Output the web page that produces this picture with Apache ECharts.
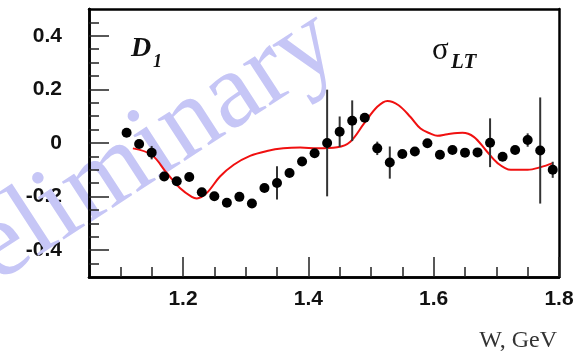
<!DOCTYPE html>
<html>
<head>
<meta charset="utf-8">
<script src="https://cdn.jsdelivr.net/npm/echarts@6/dist/echarts.min.js"></script>
<style>html,body{margin:0;padding:0;background:#fff;}#c{width:583px;height:354px;}</style>
</head>
<body>
<div id="c"></div>
<script>
// Data points (W in GeV, value) and their errors
const pointW = [1.11,1.13,1.15,1.17,1.19,1.21,1.23,1.25,1.27,1.29,1.31,1.33,1.35,1.37,1.39,1.41,1.43,1.45,1.47,1.49,1.51,1.53,1.55,1.57,1.59,1.61,1.63,1.65,1.67,1.69,1.71,1.73,1.75,1.77,1.79];
const pointV = [0.038,-0.004,-0.036,-0.125,-0.143,-0.127,-0.184,-0.199,-0.223,-0.201,-0.226,-0.168,-0.149,-0.112,-0.069,-0.038,0.000,0.042,0.083,0.094,-0.020,-0.073,-0.041,-0.032,-0.001,-0.044,-0.026,-0.036,-0.035,0.001,-0.051,-0.026,0.011,-0.028,-0.100];
const pointErr = [0,0,0.025,0,0,0,0,0,0,0,0,0,0.062,0,0,0,0.199,0.057,0.076,0,0.025,0.06,0,0,0,0,0,0,0,0.091,0,0,0.025,0.198,0.03];
// Model curve
const curveW = [1.12,1.15,1.174,1.195,1.214,1.222,1.238,1.259,1.281,1.307,1.334,1.36,1.387,1.414,1.446,1.467,1.489,1.51,1.526,1.544,1.563,1.579,1.595,1.606,1.622,1.646,1.664,1.683,1.702,1.723,1.75,1.771,1.79];
const curveV = [-0.02,-0.044,-0.112,-0.168,-0.201,-0.207,-0.186,-0.125,-0.081,-0.048,-0.03,-0.02,-0.017,-0.02,-0.016,0.005,0.073,0.135,0.157,0.141,0.097,0.054,0.035,0.027,0.033,0.038,0.023,-0.026,-0.075,-0.1,-0.1,-0.09,-0.075];
// Axis ticks and labels
const xLabels = [1.2,1.4,1.6,1.8];
const xMinor = [1.1,1.15,1.25,1.3,1.35,1.45,1.5,1.55,1.65,1.7,1.75];
const yLabels = [-0.4,-0.2,0,0.2,0.4];
const yMinor = [-0.45,-0.35,-0.3,-0.25,-0.15,-0.1,-0.05,0.05,0.1,0.15,0.25,0.3,0.35,0.45];
const xMin = 1.05, xMax = 1.8, yMin = -0.5, yMax = 0.5;

const chart = echarts.init(document.getElementById('c'), null, {renderer:'canvas'});
const labFont = {fontSize:21, fontWeight:'bold', color:'#111', fontFamily:'Liberation Sans, Arial, sans-serif'};
function baseAxis(extra){
  return Object.assign({type:'value', splitLine:{show:false}, axisLine:{show:false,onZero:false}, axisTick:{show:false}, axisLabel:{show:false}}, extra);
}
const tickStyle = {color:'#222', width:1.5};
const frameLine = {show:true,onZero:false,lineStyle:{color:'#000',width:2.5}};
const option = {
  animation:false,
  backgroundColor:'#fff',
  grid:{left:89, top:9, right:24, bottom:77, containLabel:false},
  xAxis:[
    baseAxis({min:xMin,max:xMax,position:'bottom',z:0,
      axisLabel:Object.assign({show:true, customValues:xLabels, margin:12, formatter:v=>v.toFixed(1)}, labFont)}),
    baseAxis({min:xMin,max:xMax,position:'bottom',z:10, axisLine:frameLine,
      axisTick:{show:true,inside:true,length:20,customValues:xLabels,lineStyle:tickStyle}}),
    baseAxis({min:xMin,max:xMax,position:'bottom',z:10, axisLine:frameLine,
      axisTick:{show:true,inside:true,length:10,customValues:xMinor,lineStyle:tickStyle}}),
    baseAxis({min:xMin,max:xMax,position:'top',z:10, axisLine:frameLine})
  ],
  yAxis:[
    baseAxis({min:yMin,max:yMax,position:'left',z:0,
      axisLabel:Object.assign({show:true, customValues:yLabels, margin:27, formatter:v=>v===0?'0':v.toFixed(1)}, labFont)}),
    baseAxis({min:yMin,max:yMax,position:'left',z:10, axisLine:frameLine,
      axisTick:{show:true,inside:true,length:20,customValues:yLabels,lineStyle:tickStyle}}),
    baseAxis({min:yMin,max:yMax,position:'left',z:10, axisLine:frameLine,
      axisTick:{show:true,inside:true,length:10,customValues:yMinor,lineStyle:tickStyle}}),
    baseAxis({min:yMin,max:yMax,position:'right',z:10, axisLine:frameLine})
  ],
  graphic:[
    {type:'text', x:328, y:34, rotation:33*Math.PI/180, z:3,
      style:{text:'Preliminary', font:'108px "Liberation Serif", serif', fill:'#c6c6f6', textAlign:'right', textVerticalAlign:'middle'}},
    {type:'text', x:131, y:49, z:20,
      style:{text:'D', font:'italic bold 28px "Liberation Serif", serif', fill:'#111', textAlign:'left', textVerticalAlign:'middle'}},
    {type:'text', x:153, y:62, z:20,
      style:{text:'1', font:'italic bold 18px "Liberation Serif", serif', fill:'#111', textAlign:'left', textVerticalAlign:'middle'}},
    {type:'text', x:432, y:51, z:20,
      style:{text:'σ', font:'31px "Liberation Serif", serif', fill:'#111', textAlign:'left', textVerticalAlign:'middle'}},
    {type:'text', x:451, y:63, z:20,
      style:{text:'LT', font:'italic bold 21px "Liberation Serif", serif', fill:'#111', textAlign:'left', textVerticalAlign:'middle'}},
    {type:'text', x:557, y:341, z:20,
      style:{text:'W, GeV', font:'24px "Liberation Serif", serif', fill:'#333', textAlign:'right', textVerticalAlign:'middle'}}
  ],
  series:[
    {type:'line', xAxisIndex:0, yAxisIndex:0, z:5, smooth:0.35, symbol:'none',
      lineStyle:{color:'#f01010', width:2},
      data:curveW.map((w,i)=>[w,curveV[i]])},
    {type:'custom', xAxisIndex:0, yAxisIndex:0, z:6,
      renderItem:function(params, api){
        const x=api.value(0), y=api.value(1), e=api.value(2);
        if(!e) return null;
        const p1=api.coord([x,y+e]), p2=api.coord([x,y-e]);
        return {type:'line', shape:{x1:p1[0],y1:p1[1],x2:p2[0],y2:p2[1]}, style:{stroke:'#333',lineWidth:2}};
      },
      data:pointW.map((w,i)=>[w,pointV[i],pointErr[i]])},
    {type:'scatter', xAxisIndex:0, yAxisIndex:0, z:7, symbol:'circle', symbolSize:10,
      itemStyle:{color:'#000', opacity:1},
      data:pointW.map((w,i)=>[w,pointV[i]])}
  ]
};
chart.setOption(option);
</script>
</body>
</html>
